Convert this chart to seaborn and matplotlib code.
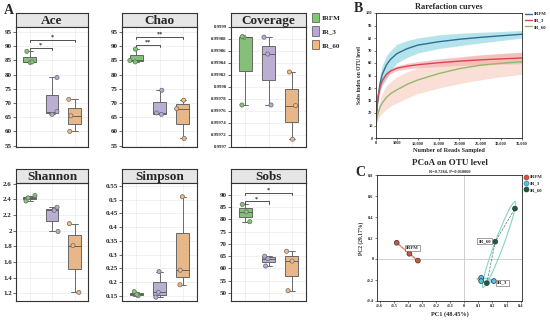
import numpy as np
import pandas as pd
import matplotlib
matplotlib.use("Agg")
import matplotlib.pyplot as plt
from matplotlib.patches import Ellipse, Patch
from matplotlib.lines import Line2D
import seaborn as sns

# =========================
# DATA
# =========================

groups = ["IRFM", "IR_3", "IR_60"]
box_colors = ["#7dcb6e", "#b8a8d8", "#f7b67a"]

# alpha diversity, three samples per group
ace = {"IRFM": [84.3, 84.5, 88.2], "IR_3": [66.0, 67.0, 79.0], "IR_60": [60.0, 65.5, 71.3]}
chao = {"IRFM": [84.5, 85.0, 89.0], "IR_3": [66.0, 66.5, 74.5], "IR_60": [57.5, 68.0, 71.0]}
coverage = {"IRFM": [0.999770, 0.999883, 0.999884], "IR_3": [0.999770, 0.999855, 0.999883],
            "IR_60": [0.999713, 0.999769, 0.999825]}
shannon = {"IRFM": [2.38, 2.42, 2.45], "IR_3": [1.99, 2.26, 2.30], "IR_60": [1.21, 1.81, 2.09]}
simpson = {"IRFM": [0.150, 0.155, 0.165], "IR_3": [0.145, 0.163, 0.238], "IR_60": [0.190, 0.243, 0.510]}
sobs = {"IRFM": [79.0, 83.0, 86.0], "IR_3": [61.0, 64.0, 65.0], "IR_60": [51.0, 63.0, 67.0]}

# significance brackets: (group a, group b, y, label)
ace_sig = [(0, 1, 89.5, "*"), (0, 2, 92.3, "*")]
chao_sig = [(0, 1, 90.6, "**"), (0, 2, 93.3, "**")]
sobs_sig = [(0, 1, 87.2, "*"), (0, 2, 90.7, "*")]

# rarefaction curves
reads = [0, 250, 500, 1000, 1500, 2500, 3500, 5000, 7500, 10000, 15000, 20000, 25000, 30000, 35000]
irfm_mean = [12, 25, 33, 44, 51, 58.5, 63, 67.5, 71.5, 74.3, 77, 79, 80.5, 81.8, 83]
irfm_hi = [12, 28, 38, 51, 58, 66, 70, 75, 78, 80, 82.5, 83.8, 84.6, 85.2, 86]
irfm_lo = [12, 22, 28, 37, 42, 47, 54, 60, 64.5, 68, 71.5, 73.8, 76, 78, 80]
ir3_mean = [12, 25, 33, 41, 46, 51, 53.5, 55.8, 57.5, 58.6, 60.2, 61.5, 62.5, 63.3, 64]
ir3_hi = [12, 26, 34.5, 43, 48, 53, 55.5, 57.8, 59.7, 61.1, 63.2, 65, 66.5, 67.6, 68.6]
ir3_lo = [12, 24, 31.5, 39, 44, 49, 51.5, 53.8, 55.3, 56.1, 57.2, 58, 58.5, 59, 59.4]
ir60_mean = [10, 16, 20, 25, 28, 32.5, 35.5, 38.5, 43, 46.4, 51.5, 55.5, 58.2, 59.8, 61]
ir60_hi = [10, 18, 24, 31, 36, 42, 45, 49, 53, 56, 60, 63.5, 66, 67.5, 68.5]
ir60_lo = [10, 13, 15, 18, 20, 23, 25.5, 28, 32, 35.5, 40, 43.5, 46.5, 49, 51]

rare_line_colors = ["#2c6e96", "#d8464f", "#93b866"]
rare_band_colors = ["#5cc3d6", "#e8838c", "#f6b8a6"]
rare_xticklabels = ["0", "5000", "10,000", "15,000", "20,000", "25,000", "30,000", "35,000"]

# PCoA
pc1 = {"IRFM": [-0.48, -0.39, -0.33], "IR_3": [0.12, 0.12, 0.21], "IR_60": [0.36, 0.22, 0.16]}
pc2 = {"IRFM": [0.155, 0.05, -0.015], "IR_3": [-0.18, -0.21, -0.21], "IR_60": [0.48, 0.165, -0.23]}
pcoa_colors = ["#d4553b", "#5bc0de", "#1c5e3c"]
pcoa_edges = ["#9a3a26", "#2d7f9c", "#0e3322"]
ellipse_colors = ["#e98b77", "#7fcde6", "#86d3cc"]
label_offsets = [(0.03, 0.042), (0.12, -0.025), (-0.10, 0.03)]

# =========================
# STYLE
# =========================

sns.set_theme(style="whitegrid")
plt.rcParams['font.family'] = ['Liberation Serif', 'DejaVu Serif']
plt.rcParams['font.weight'] = 'bold'
np.random.seed(3)

W, H = 550, 320
fig = plt.figure(figsize=(5.5, 3.2), dpi=100)
fig.patch.set_facecolor("white")


def px(x0, y0, x1, y1):
    return [x0 / W, 1 - y1 / H, (x1 - x0) / W, (y1 - y0) / H]


def fmt_num(v, pos=None):
    s = f"{v:.5f}".rstrip("0").rstrip(".")
    return s


def box_panel(rect_strip, rect_ax, title, values, ylim, yticks, sig=None, tick_size=5.0):
    sax = fig.add_axes(px(*rect_strip))
    sax.set_facecolor("#e6e6e6")
    sax.set_xticks([])
    sax.set_yticks([])
    for s in sax.spines.values():
        s.set_color("#333333")
        s.set_linewidth(0.8)
    sax.text(0.5, 0.45, title, ha="center", va="center", fontsize=9.5, fontweight="bold")

    ax = fig.add_axes(px(*rect_ax))
    df = pd.DataFrame([(g, v) for g in groups for v in values[g]], columns=["group", "value"])
    sns.boxplot(data=df, x="group", y="value", hue="group", order=groups, hue_order=groups,
                palette=box_colors, width=0.55, linewidth=0.6, linecolor="#555555",
                showfliers=False, legend=False, ax=ax)
    sns.stripplot(data=df, x="group", y="value", hue="group", order=groups, hue_order=groups,
                  palette=box_colors, jitter=0.28, size=3, linewidth=0.5, edgecolor="#6a6a6a",
                  legend=False, ax=ax)
    ax.set_ylim(*ylim)
    ax.set_xlim(-0.6, 2.6)
    ax.set_yticks(yticks)
    ax.set_yticklabels([fmt_num(v) for v in yticks])
    ax.tick_params(axis="y", labelsize=tick_size, length=2, width=0.5, pad=1, left=True, color="#333333")
    ax.tick_params(axis="x", labelbottom=False, length=0)
    ax.set_xlabel("")
    ax.set_ylabel("")
    ax.grid(True, color="#ececec", lw=0.5)
    for s in ax.spines.values():
        s.set_color("#333333")
        s.set_linewidth(0.8)
    if sig:
        span = ylim[1] - ylim[0]
        for a, b, y, lab in sig:
            d = span * 0.018
            ax.plot([a, a, b, b], [y - d, y, y, y - d], color="#333333", lw=0.6)
            ax.text((a + b) / 2, y + span * 0.002, lab, ha="center", va="bottom", fontsize=4.5)
    return ax


cols = [(16, 88), (122, 197), (231, 306)]
top_strip, top_ax = (13, 27), (27, 147)
bot_strip, bot_ax = (169, 183), (183, 301)

box_panel((cols[0][0], top_strip[0], cols[0][1], top_strip[1]),
          (cols[0][0], top_ax[0], cols[0][1], top_ax[1]),
          "Ace", ace, (54.5, 96.8), np.arange(55, 96, 5), ace_sig)
box_panel((cols[1][0], top_strip[0], cols[1][1], top_strip[1]),
          (cols[1][0], top_ax[0], cols[1][1], top_ax[1]),
          "Chao", chao, (54.5, 96.8), np.arange(55, 96, 5), chao_sig)
box_panel((cols[2][0], top_strip[0], cols[2][1], top_strip[1]),
          (cols[2][0], top_ax[0], cols[2][1], top_ax[1]),
          "Coverage", coverage, (0.99970, 0.99990), np.round(np.arange(0.99970, 0.999901, 0.00002), 5),
          None, tick_size=3.5)
box_panel((cols[0][0], bot_strip[0], cols[0][1], bot_strip[1]),
          (cols[0][0], bot_ax[0], cols[0][1], bot_ax[1]),
          "Shannon", shannon, (1.1, 2.61), np.round(np.arange(1.2, 2.61, 0.2), 1))
box_panel((cols[1][0], bot_strip[0], cols[1][1], bot_strip[1]),
          (cols[1][0], bot_ax[0], cols[1][1], bot_ax[1]),
          "Simpson", simpson, (0.131, 0.56), np.round(np.arange(0.15, 0.551, 0.05), 2))
box_panel((cols[2][0], bot_strip[0], cols[2][1], bot_strip[1]),
          (cols[2][0], bot_ax[0], cols[2][1], bot_ax[1]),
          "Sobs", sobs, (46.8, 94.7), np.arange(50, 91, 5), sobs_sig)

box_handles = [Patch(facecolor=c, edgecolor="#666666", lw=0.6) for c in box_colors]
fig.legend(box_handles, groups, loc="upper left", bbox_to_anchor=(309 / W, 1 - 10 / H),
           frameon=False, fontsize=5, handlelength=1.1, handleheight=1.7, labelspacing=0.6,
           handletextpad=0.4, borderaxespad=0)

# =========================
# B: RAREFACTION
# =========================

axb = fig.add_axes(px(376, 13, 522, 138))
axb.set_facecolor("white")
rare = pd.DataFrame({
    "reads": reads * 3,
    "sobs": irfm_mean + ir3_mean + ir60_mean,
    "group": ["IRFM"] * len(reads) + ["IR_3"] * len(reads) + ["IR_60"] * len(reads),
})
bands = [(irfm_lo, irfm_hi), (ir3_lo, ir3_hi), (ir60_lo, ir60_hi)]
for (lo, hi), c in zip(bands, rare_band_colors):
    axb.fill_between(reads, lo, hi, color=c, alpha=0.45, lw=0)
sns.lineplot(data=rare, x="reads", y="sobs", hue="group", hue_order=groups,
             palette=rare_line_colors, lw=1.0, legend=False, ax=axb)
axb.set_xlim(0, 35000)
axb.set_ylim(0, 100)
axb.set_xticks(np.arange(0, 35001, 5000))
axb.set_xticklabels(rare_xticklabels)
axb.set_yticks(np.arange(0, 101, 10))
axb.grid(False)
for s in axb.spines.values():
    s.set_color("#222222")
    s.set_linewidth(0.6)
axb.tick_params(labelsize=3.2, length=1.5, width=0.4, pad=1, bottom=True, left=True, color="#222222")
axb.set_xlabel("Number of Reads Sampled", fontsize=4.5, fontweight="bold", labelpad=2)
axb.set_ylabel("Sobs index on OTU level", fontsize=4, fontweight="bold", labelpad=3)
axb.set_title("Rarefaction curves", fontsize=6, fontweight="bold", pad=3)
line_handles = [Line2D([0], [0], color=c, lw=1.0) for c in rare_line_colors]
fig.legend(line_handles, groups, loc="upper left", bbox_to_anchor=(523 / W, 1 - 10 / H),
           frameon=False, fontsize=3.5, handlelength=1.4, labelspacing=0.4,
           handletextpad=0.4, borderaxespad=0)

# =========================
# C: PCoA
# =========================

axc = fig.add_axes(px(377, 175, 522, 301))
axc.set_facecolor("white")
axc.axhline(0, color="#c8c8c8", lw=0.6, zorder=0)
axc.axvline(0, color="#c8c8c8", lw=0.6, zorder=0)

pc = pd.DataFrame([(g, x, y) for g in groups for x, y in zip(pc1[g], pc2[g])],
                  columns=["group", "PC1", "PC2"])

for g, ec, lc in zip(groups, ellipse_colors, pcoa_colors):
    pts = np.column_stack([pc1[g], pc2[g]])
    mu = pts.mean(axis=0)
    cov = np.cov(pts, rowvar=False)
    vals, vecs = np.linalg.eigh(cov)
    k = 1.15
    w, h = 2 * k * np.sqrt(np.maximum(vals, 1e-5))
    ang = np.degrees(np.arctan2(vecs[1, 0], vecs[0, 0]))
    fill = g == "IRFM"
    axc.add_patch(Ellipse(mu, w, h, angle=ang, facecolor=ec if fill else "none",
                          edgecolor=ec, lw=0.8, alpha=0.55 if fill else 1.0, zorder=1))
    order = np.argsort(pts[:, 1])
    axc.plot(pts[order, 0], pts[order, 1], ls="--", color=lc, lw=0.5, alpha=0.8, zorder=2)

sns.scatterplot(data=pc, x="PC1", y="PC2", hue="group", hue_order=groups, palette=pcoa_colors,
                s=12, linewidth=0.5, edgecolor="#333333", legend=False, ax=axc, zorder=3)

for g, (dx, dy) in zip(groups, label_offsets):
    cx, cy = np.mean(pc1[g]), np.mean(pc2[g])
    axc.text(cx + dx, cy + dy, g, fontsize=3.5, fontweight="bold", ha="center", va="center",
             bbox=dict(facecolor="white", edgecolor="#555555", lw=0.4, pad=0.8), zorder=4)

xt = np.round(np.arange(-0.6, 0.41, 0.1), 1)
yt = np.round(np.arange(-0.4, 0.81, 0.2), 1)
axc.set_xlim(-0.62, 0.41)
axc.set_ylim(-0.4, 0.8)
axc.set_xticks(xt)
axc.set_xticklabels([fmt_num(v) if abs(v) > 1e-9 else "0" for v in xt])
axc.set_yticks(yt)
axc.set_yticklabels([fmt_num(v) if abs(v) > 1e-9 else "0" for v in yt])
axc.grid(False)
for s in axc.spines.values():
    s.set_color("#222222")
    s.set_linewidth(0.6)
axc.tick_params(labelsize=3.2, length=1.5, width=0.4, pad=1, bottom=True, left=True, color="#222222")
axc.set_xlabel("PC1 (48.45%)", fontsize=4.5, fontweight="bold", labelpad=2)
axc.set_ylabel("PC2 (29.17%)", fontsize=4, fontweight="bold", labelpad=2)
axc.text(0.5, 1.06, "PCoA on OTU level", transform=axc.transAxes, ha="center", va="bottom",
         fontsize=6.5, fontweight="bold")
axc.text(0.5, 1.012, "R=0.7284, P=0.010000", transform=axc.transAxes, ha="center", va="bottom",
         fontsize=3.2, fontweight="bold")
pt_handles = [Line2D([0], [0], marker="o", ls="none", markerfacecolor=c, markeredgecolor=e,
                     markersize=3.5, markeredgewidth=0.5) for c, e in zip(pcoa_colors, pcoa_edges)]
fig.legend(pt_handles, groups, loc="upper left", bbox_to_anchor=(522 / W, 1 - 173 / H),
           frameon=False, fontsize=3.5, handlelength=1.0, labelspacing=0.4,
           handletextpad=0.2, borderaxespad=0)

# panel letters
fig.text(4 / W, 1 - 4 / H, "A", fontsize=10, fontweight="bold", va="top")
fig.text(354 / W, 1 - 2 / H, "B", fontsize=10, fontweight="bold", va="top")
fig.text(355 / W, 1 - 166 / H, "C", fontsize=10, fontweight="bold", va="top")

fig.savefig("out.png", dpi=100, facecolor="white")
